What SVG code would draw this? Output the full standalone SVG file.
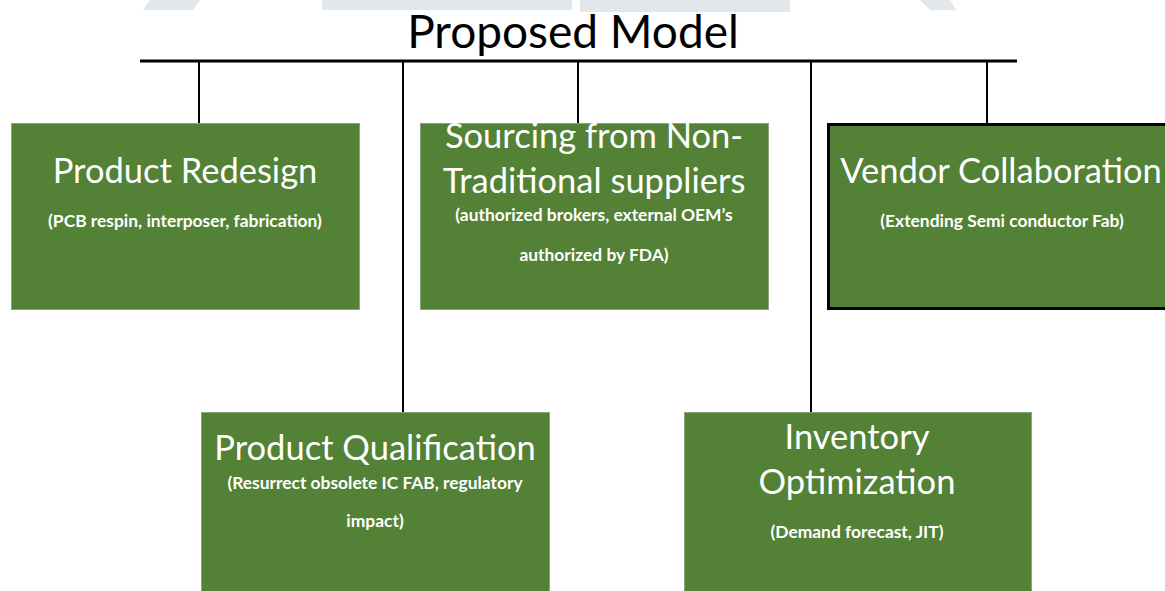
<svg xmlns="http://www.w3.org/2000/svg" width="1165" height="591" viewBox="0 0 1165 591">
  <style>
    .box { fill: #538135; stroke: #8aa57c; stroke-width: 1; }
    .box-strong { fill: #538135; stroke: #000; stroke-width: 3; }
    .wire { stroke: #000; stroke-width: 2; fill: none; }
    .bus { stroke: #000; stroke-width: 3; fill: none; }
    .title { font-family: Lato, "Open Sans", sans-serif; font-size: 46px; fill: #000; text-anchor: middle; }
    .head { font-family: Lato, "Open Sans", sans-serif; font-size: 34.5px; fill: #fff; text-anchor: middle; }
    .sub { font-family: Lato, "Open Sans", sans-serif; font-size: 17.4px; font-weight: bold; fill: #fff; text-anchor: middle; }
    .mark { fill: #e2e7eb; }
  </style>

  <rect width="1165" height="591" fill="#fff"/>

  <!-- faint background mark along the top edge -->
  <g id="backdrop">
    <polygon class="mark" points="150,0 200,0 193,10 143,10"/>
    <rect class="mark" x="322" y="0" width="250" height="10"/>
    <path class="mark" d="M580,0 H790 V12 H580 Z"/>
    <polygon class="mark" points="920,0 950,0 956,10 930,10"/>
  </g>

  <text class="title" x="573" y="48">Proposed Model</text>

  <!-- connectors -->
  <g id="connectors">
    <line class="bus" x1="140" y1="61" x2="1017" y2="61"/>
    <line class="wire" x1="199" y1="61" x2="199" y2="124"/>
    <line class="wire" x1="403" y1="61" x2="403" y2="413"/>
    <line class="wire" x1="578" y1="61" x2="578" y2="124"/>
    <line class="wire" x1="811" y1="61" x2="811" y2="413"/>
    <line class="wire" x1="987" y1="61" x2="987" y2="124"/>
  </g>

  <g id="product-redesign">
    <rect class="box" x="11.5" y="123.5" width="348" height="186"/>
    <text class="head" x="185" y="183">Product Redesign</text>
    <text class="sub" x="185" y="227">(PCB respin, interposer, fabrication)</text>
  </g>

  <g id="non-traditional-sourcing">
    <rect class="box" x="420.5" y="123.5" width="348" height="186"/>
    <text class="head" x="594" y="148">Sourcing from Non-</text>
    <text class="head" x="594" y="193">Traditional suppliers</text>
    <text class="sub" x="594" y="221">(authorized brokers, external OEM’s</text>
    <text class="sub" x="594" y="261">authorized by FDA)</text>
  </g>

  <g id="vendor-collaboration">
    <rect class="box-strong" x="828.5" y="124.5" width="345" height="184"/>
    <text class="head" x="1001" y="183">Vendor Collaboration</text>
    <text class="sub" x="1002" y="227">(Extending Semi conductor Fab)</text>
  </g>

  <g id="product-qualification">
    <rect class="box" x="201.5" y="412.5" width="348" height="190"/>
    <text class="head" x="375" y="460">Product Qualification</text>
    <text class="sub" x="375" y="489">(Resurrect obsolete IC FAB, regulatory</text>
    <text class="sub" x="375" y="527">impact)</text>
  </g>

  <g id="inventory-optimization">
    <rect class="box" x="684.5" y="412.5" width="347" height="190"/>
    <text class="head" x="857" y="449">Inventory</text>
    <text class="head" x="857" y="494">Optimization</text>
    <text class="sub" x="857" y="538">(Demand forecast, JIT)</text>
  </g>
</svg>
